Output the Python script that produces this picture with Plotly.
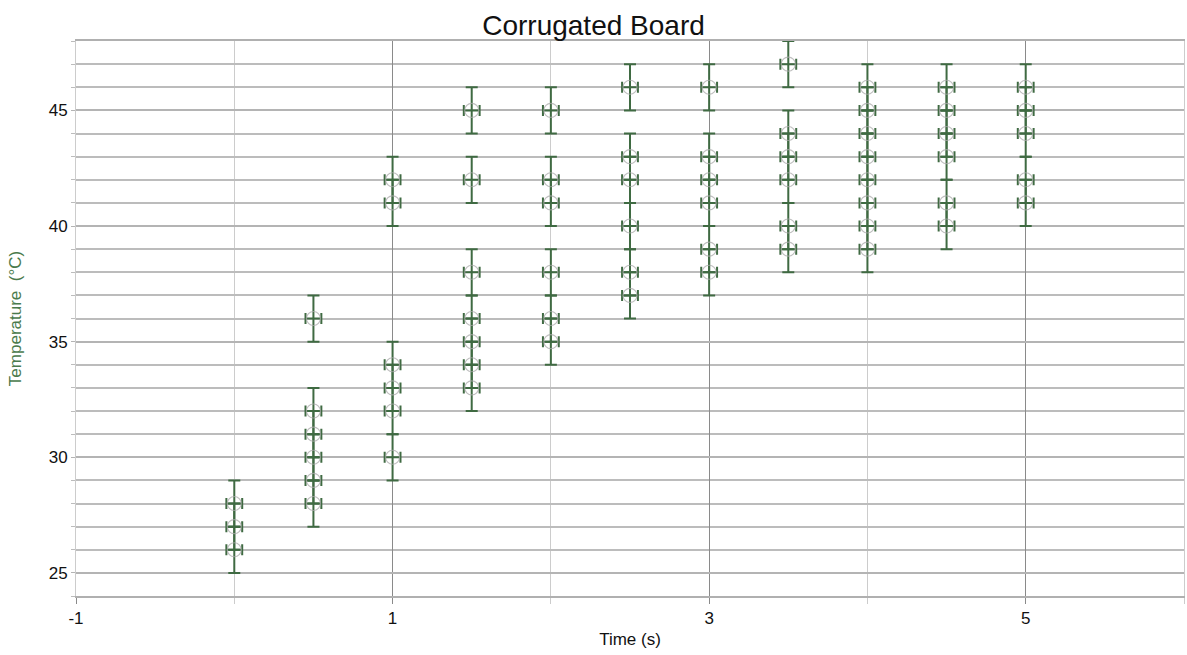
import plotly.graph_objects as go

# Temperature readings (°C) recorded at each time step (s)
times = [0, 0.5, 1, 1.5, 2, 2.5, 3, 3.5, 4, 4.5, 5]
temps_t0_0 = [26, 27, 28]
temps_t0_5 = [28, 29, 30, 31, 32, 36]
temps_t1_0 = [30, 32, 33, 34, 41, 42]
temps_t1_5 = [33, 34, 35, 36, 38, 42, 45]
temps_t2_0 = [35, 36, 38, 41, 42, 45]
temps_t2_5 = [37, 38, 40, 42, 43, 46]
temps_t3_0 = [38, 39, 41, 42, 43, 46]
temps_t3_5 = [39, 40, 42, 43, 44, 47]
temps_t4_0 = [39, 40, 41, 42, 43, 44, 45, 46]
temps_t4_5 = [40, 41, 43, 44, 45, 46]
temps_t5_0 = [41, 42, 44, 45, 46]

temp_uncertainty = 1.0   # °C
time_uncertainty = 0.05  # s

x_tick_labels = ["-1", "1", "3", "5"]
y_tick_labels = ["25", "30", "35", "40", "45"]

readings = [temps_t0_0, temps_t0_5, temps_t1_0, temps_t1_5, temps_t2_0,
            temps_t2_5, temps_t3_0, temps_t3_5, temps_t4_0, temps_t4_5,
            temps_t5_0]

xs, ys = [], []
for t, vals in zip(times, readings):
    for v in vals:
        xs.append(t)
        ys.append(v)

bar_color = "#3f6a42"
font_family = "Liberation Sans, Arial, sans-serif"

fig = go.Figure()
fig.add_trace(go.Scatter(
    x=xs, y=ys,
    mode="markers",
    marker=dict(symbol="circle-open", size=14, color="rgba(170,170,170,0.75)",
                line=dict(width=1.2, color="rgba(170,170,170,0.75)")),
    error_y=dict(type="constant", value=temp_uncertainty, color=bar_color,
                 thickness=2, width=6),
    error_x=dict(type="constant", value=time_uncertainty, color=bar_color,
                 thickness=2, width=5.5),
    showlegend=False,
    hoverinfo="x+y",
))

fig.update_layout(
    width=1187, height=655,
    margin=dict(l=76, r=3, t=41, b=59),
    paper_bgcolor="white", plot_bgcolor="white",
    font=dict(family=font_family, size=16, color="#222222"),
    title=dict(text="Corrugated Board", x=0.5, xanchor="center",
               y=0.962, yanchor="middle",
               font=dict(family=font_family, size=28, color="#111111")),
    xaxis=dict(
        range=[-1, 6],
        tickmode="array",
        tickvals=[int(v) for v in x_tick_labels],
        ticktext=x_tick_labels,
        showgrid=True, gridcolor="#8a8a8a", gridwidth=1,
        ticks="outside", ticklen=6, tickcolor="#8a8a8a",
        minor=dict(dtick=1, tick0=0, showgrid=True, gridcolor="#cccccc",
                   gridwidth=1.2, ticks="outside", ticklen=6,
                   tickcolor="#cccccc"),
        showline=True, linecolor="#b0b0b0", linewidth=2, mirror=True,
        zeroline=False,
        title=dict(text="Time (s)", standoff=6,
                   font=dict(family=font_family, size=17, color="#111111")),
        tickfont=dict(size=17, color="#111111"),
    ),
    yaxis=dict(
        range=[24, 48],
        tickmode="array",
        tickvals=[int(v) for v in y_tick_labels],
        ticktext=y_tick_labels,
        showgrid=True, gridcolor="#b4b4b4", gridwidth=1.5,
        ticks="outside", ticklen=4, tickcolor="#b4b4b4",
        minor=dict(dtick=1, tick0=24, showgrid=True, gridcolor="#bcbcbc",
                   gridwidth=1.5, ticks="outside", ticklen=4,
                   tickcolor="#bcbcbc"),
        showline=True, linecolor="#cccccc", linewidth=1, mirror=True,
        zeroline=False,
        title=dict(text="Temperature  (°C)", standoff=22,
                   font=dict(family=font_family, size=17, color="#4a7a4c")),
        tickfont=dict(size=17, color="#111111"),
    ),
)

fig.write_html("out.html")
